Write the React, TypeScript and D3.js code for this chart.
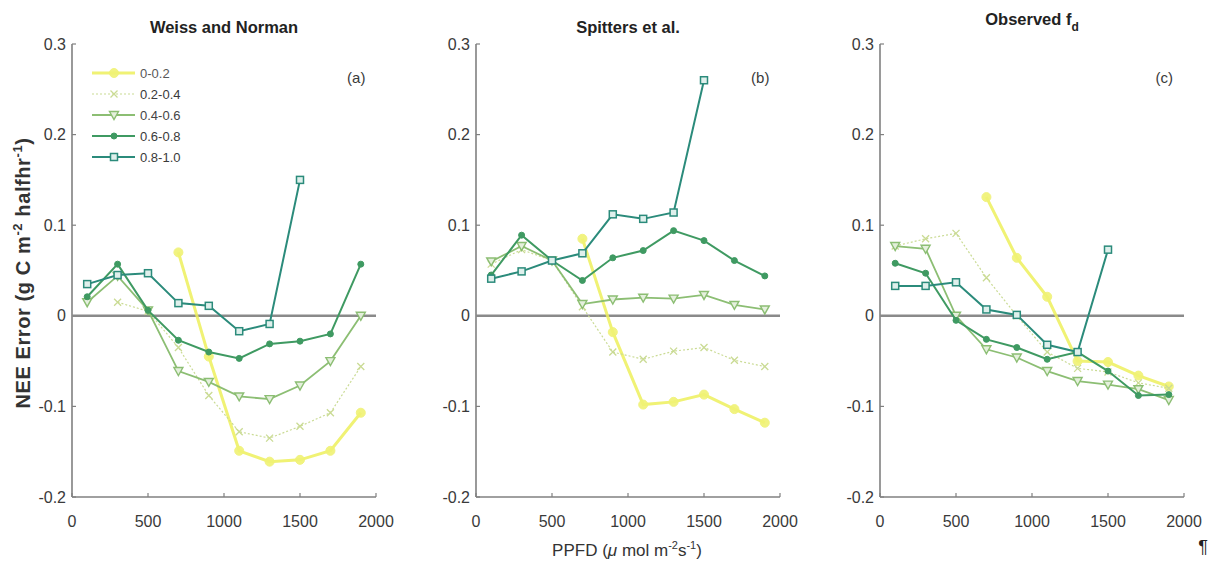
import { useEffect } from "react";
import * as d3 from "d3";

const ppfd = [100, 300, 500, 700, 900, 1100, 1300, 1500, 1700, 1900];
const yTicks = [0.3, 0.2, 0.1, 0, -0.1, -0.2];
const xTicks = [0, 500, 1000, 1500, 2000];
const classes = ["0-0.2", "0.2-0.4", "0.4-0.6", "0.6-0.8", "0.8-1.0"];

type V = number | null;

// (a) Weiss and Norman
const weiss02: V[] = [null, null, null, 0.07, -0.045, -0.149, -0.161, -0.159, -0.149, -0.107];
const weiss04: V[] = [null, 0.015, 0.005, -0.035, -0.088, -0.128, -0.135, -0.122, -0.107, -0.056];
const weiss06: V[] = [0.015, 0.044, 0.006, -0.061, -0.073, -0.089, -0.092, -0.077, -0.05, 0.0];
const weiss08: V[] = [0.021, 0.057, 0.006, -0.027, -0.04, -0.047, -0.031, -0.028, -0.02, 0.057];
const weiss10: V[] = [0.035, 0.045, 0.047, 0.014, 0.011, -0.017, -0.009, 0.15, null, null];

// (b) Spitters et al.
const spit02: V[] = [null, null, null, 0.085, -0.018, -0.098, -0.095, -0.087, -0.103, -0.118];
const spit04: V[] = [0.057, 0.073, 0.061, 0.01, -0.04, -0.048, -0.039, -0.035, -0.049, -0.056];
const spit06: V[] = [0.06, 0.077, 0.061, 0.013, 0.018, 0.02, 0.019, 0.023, 0.012, 0.007];
const spit08: V[] = [0.045, 0.089, 0.061, 0.039, 0.064, 0.072, 0.094, 0.083, 0.061, 0.044];
const spit10: V[] = [0.041, 0.049, 0.061, 0.069, 0.112, 0.107, 0.114, 0.26, null, null];

// (c) Observed fd
const obs02: V[] = [null, null, null, 0.131, 0.064, 0.021, -0.05, -0.051, -0.066, -0.078];
const obs04: V[] = [0.077, 0.085, 0.091, 0.042, 0.0, -0.04, -0.058, -0.062, -0.074, -0.08];
const obs06: V[] = [0.077, 0.074, 0.0, -0.037, -0.046, -0.061, -0.072, -0.076, -0.081, -0.093];
const obs08: V[] = [0.058, 0.047, -0.005, -0.026, -0.035, -0.048, -0.04, -0.061, -0.088, -0.087];
const obs10: V[] = [0.033, 0.033, 0.037, 0.007, 0.001, -0.032, -0.04, 0.073, null, null];

const styles = [
  { color: "#eef05c", width: 3, dash: "none", marker: "circle", opacity: 0.85 },
  { color: "#cadb94", width: 1.2, dash: "2 2", marker: "x", opacity: 1 },
  { color: "#86bb6c", width: 1.8, dash: "none", marker: "tri", opacity: 0.95 },
  { color: "#3f9a62", width: 2, dash: "none", marker: "dot", opacity: 1 },
  { color: "#2b8b7b", width: 2, dash: "none", marker: "square", opacity: 1 },
];

const panels = [
  { title: "Weiss and Norman", tag: "(a)", x0: 72, series: [weiss02, weiss04, weiss06, weiss08, weiss10] },
  { title: "Spitters et al.", tag: "(b)", x0: 476, series: [spit02, spit04, spit06, spit08, spit10] },
  { title: "Observed f", tag: "(c)", x0: 880, series: [obs02, obs04, obs06, obs08, obs10] },
];

const W = 1210, H = 563;
const PW = 304, TOP = 44, BOT = 497;
const font = "'Liberation Sans', Arial, Helvetica, sans-serif";
const axisGray = "#808080";
const textGray = "#3a3a3a";

const y = d3.scaleLinear().domain([-0.2, 0.3]).range([BOT, TOP]);
const fmtTick = (t: number) => (t === 0 ? "0" : t.toFixed(1));

function Marker({ kind, cx, cy, color }: { kind: string; cx: number; cy: number; color: string }) {
  if (kind === "circle") return <circle cx={cx} cy={cy} r={4.5} fill={color} stroke={color} strokeWidth={1} opacity={0.9} />;
  if (kind === "x")
    return (
      <path d={`M${cx - 3.5},${cy - 3.5}L${cx + 3.5},${cy + 3.5}M${cx - 3.5},${cy + 3.5}L${cx + 3.5},${cy - 3.5}`} stroke={color} strokeWidth={1.3} />
    );
  if (kind === "tri")
    return <path d={`M${cx - 4.5},${cy - 3.5}L${cx + 4.5},${cy - 3.5}L${cx},${cy + 4.5}Z`} fill="#e4f0dc" stroke={color} strokeWidth={1.4} />;
  if (kind === "dot") return <circle cx={cx} cy={cy} r={3} fill={color} stroke={color} strokeWidth={1} />;
  return <rect x={cx - 3.5} y={cy - 3.5} width={7} height={7} fill="#dff0ec" stroke={color} strokeWidth={1.5} />;
}

function Panel({ p, legend }: { p: (typeof panels)[number]; legend: boolean }) {
  const x = d3.scaleLinear().domain([0, 2000]).range([p.x0, p.x0 + PW]);
  const line = d3
    .line<V>()
    .defined((d) => d !== null)
    .x((_, i) => x(ppfd[i]))
    .y((d) => y(d as number));
  const titleX = x(1000);
  return (
    <g>
      <text x={titleX} y={p.tag === "(c)" ? 25 : 33} textAnchor="middle" fontFamily={font} fontWeight="bold" fontSize={16.5} fill="#222">
        {p.title}
        {p.tag === "(c)" && (
          <tspan fontSize={12} dy={6}>
            d
          </tspan>
        )}
      </text>
      <text x={x(1870)} y={y(0.257)} textAnchor="middle" fontFamily={font} fontSize={15} fill={textGray}>
        {p.tag}
      </text>
      {/* axes */}
      <line x1={p.x0} x2={p.x0} y1={TOP} y2={BOT} stroke={axisGray} strokeWidth={1.6} />
      <line x1={p.x0} x2={x(2000)} y1={BOT} y2={BOT} stroke={axisGray} strokeWidth={1.6} />
      {yTicks.map((t) => (
        <g key={t}>
          <line x1={p.x0} x2={p.x0 + 4} y1={y(t)} y2={y(t)} stroke={axisGray} strokeWidth={1.2} />
          <text x={p.x0 - 6} y={y(t) + 5.5} textAnchor="end" fontFamily={font} fontSize={16} fill={textGray}>
            {fmtTick(t)}
          </text>
        </g>
      ))}
      {xTicks.map((t) => (
        <g key={t}>
          <line x1={x(t)} x2={x(t)} y1={BOT} y2={BOT - 4} stroke={axisGray} strokeWidth={1.2} />
          <text x={x(t)} y={BOT + 30} textAnchor="middle" fontFamily={font} fontSize={16} fill={textGray}>
            {t}
          </text>
        </g>
      ))}
      <line x1={p.x0} x2={x(2000)} y1={y(0)} y2={y(0)} stroke="#8a8a8a" strokeWidth={2.6} />
      {/* series */}
      {p.series.map((s, k) => {
        const st = styles[k];
        return (
          <g key={k} opacity={st.opacity}>
            <path d={line(s) || ""} fill="none" stroke={st.color} strokeWidth={st.width} strokeDasharray={st.dash} />
            {s.map((v, i) =>
              v === null ? null : <Marker key={i} kind={st.marker} cx={x(ppfd[i])} cy={y(v)} color={st.color} />
            )}
          </g>
        );
      })}
      {legend &&
        classes.map((c, k) => {
          const st = styles[k];
          const ly = 73 + k * 21;
          return (
            <g key={c} opacity={st.opacity}>
              <line x1={92} x2={135} y1={ly} y2={ly} stroke={st.color} strokeWidth={st.width} strokeDasharray={st.dash} />
              <Marker kind={st.marker} cx={114} cy={ly} color={st.color} />
              <text x={140} y={ly + 4.5} fontFamily={font} fontSize={13} fill={textGray}>
                {c}
              </text>
            </g>
          );
        })}
    </g>
  );
}

export default function App() {
  useEffect(() => {
    document.body.style.margin = "0";
  }, []);
  return (
    <svg width={W} height={H} style={{ display: "block", background: "#fff" }}>
      <rect width={W} height={H} fill="#fff" />
      {panels.map((p, i) => (
        <Panel key={p.tag} p={p} legend={i === 0} />
      ))}
      <text transform={`translate(30,273) rotate(-90)`} textAnchor="middle" fontFamily={font} fontWeight="bold" fontSize={20} letterSpacing={0.6} fill="#333">
        NEE Error (g C m
        <tspan fontSize={13} dy={-8}>-2</tspan>
        <tspan dy={8}> halfhr</tspan>
        <tspan fontSize={13} dy={-8}>-1</tspan>
        <tspan dy={8}>)</tspan>
      </text>
      <text x={627} y={556} textAnchor="middle" fontFamily={font} fontSize={17} fill="#333">
        PPFD (<tspan fontStyle="italic">μ</tspan> mol m
        <tspan fontSize={11} dy={-7}>-2</tspan>
        <tspan dy={7}>s</tspan>
        <tspan fontSize={11} dy={-7}>-1</tspan>
        <tspan dy={7}>)</tspan>
      </text>
      <text x={1203} y={553} textAnchor="middle" fontFamily={font} fontSize={18} fill="#222">
        ¶
      </text>
    </svg>
  );
}
